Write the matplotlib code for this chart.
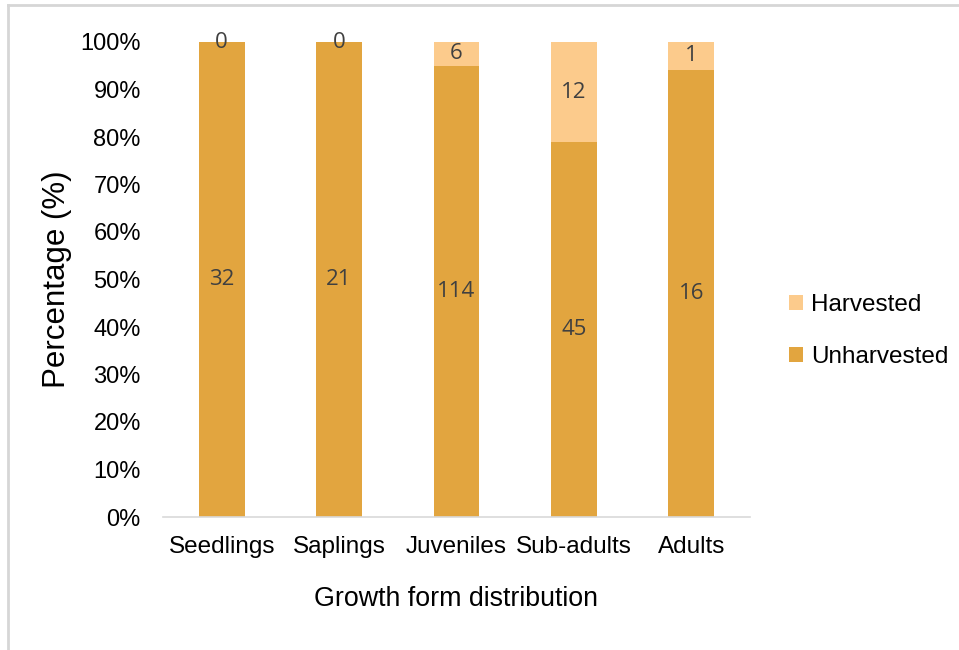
import matplotlib

matplotlib.use("Agg")
import matplotlib.pyplot as plt
import numpy as np
from matplotlib.lines import Line2D

categories = ["Seedlings", "Saplings", "Juveniles", "Sub-adults", "Adults"]
unharvested = [32, 21, 114, 45, 16]
harvested = [0, 0, 6, 12, 1]
yticks = [0, 10, 20, 30, 40, 50, 60, 70, 80, 90, 100]

COLOR_UNH = "#E2A53F"
COLOR_HAR = "#FCCB8C"
LABEL_COLOR = "#404040"

plt.rcParams["font.family"] = ["Liberation Sans", "DejaVu Sans"]

fig = plt.figure(figsize=(9.59, 6.5), dpi=100)
ax = fig.add_axes([163 / 959, 1 - 517 / 650, (750 - 163) / 959, (517 - 42) / 650])

unh = np.asarray(unharvested, dtype=float)
har = np.asarray(harvested, dtype=float)
total = unh + har
unh_pct = 100.0 * unh / total
har_pct = 100.0 * har / total
x = np.arange(len(categories))

ax.bar(x, unh_pct, width=0.39, color=COLOR_UNH, label="Unharvested")
ax.bar(x, har_pct, width=0.39, bottom=unh_pct, color=COLOR_HAR, label="Harvested")

for i in range(len(categories)):
    ax.text(x[i], unh_pct[i] / 2, str(unharvested[i]), ha="center", va="center",
            fontsize=16, color=LABEL_COLOR, family=["Open Sans", "DejaVu Sans"])
    ax.text(x[i], unh_pct[i] + har_pct[i] / 2, str(harvested[i]), ha="center",
            va="center", fontsize=16, color=LABEL_COLOR,
            family=["Open Sans", "DejaVu Sans"])

ax.set_xlim(-0.5, len(categories) - 0.5)
ax.set_ylim(0, 100)
ax.set_yticks(yticks, [f"{v}%" for v in yticks])
ax.set_xticks(x, categories)
ax.tick_params(axis="both", length=0, labelsize=17)
ax.tick_params(axis="x", labelsize=17.5, pad=14)
ax.tick_params(axis="y", pad=16)
for side in ("top", "right", "left"):
    ax.spines[side].set_visible(False)
ax.spines["bottom"].set_color("#d9d9d9")
ax.spines["bottom"].set_linewidth(1.2)

ax.set_ylabel("Percentage (%)", fontsize=22.5, labelpad=6)
ax.set_xlabel("Growth form distribution", fontsize=19.3, labelpad=20)

handles, labels = ax.get_legend_handles_labels()
fig.legend(handles[::-1], labels[::-1], loc="center left",
           bbox_to_anchor=(767 / 959, 1 - 331 / 650), frameon=False,
           fontsize=17.5, handlelength=0.6, handleheight=0.6, handletextpad=0.3,
           labelspacing=1.25)

# light frame around the figure (top and left edges)
fig.add_artist(Line2D([8 / 959, 1.0], [1 - 5 / 650, 1 - 5 / 650],
                      transform=fig.transFigure, color="#d6d6d6", linewidth=2))
fig.add_artist(Line2D([8 / 959, 8 / 959], [0.0, 1 - 5 / 650],
                      transform=fig.transFigure, color="#d6d6d6", linewidth=2))

fig.savefig("out.png", dpi=100)
